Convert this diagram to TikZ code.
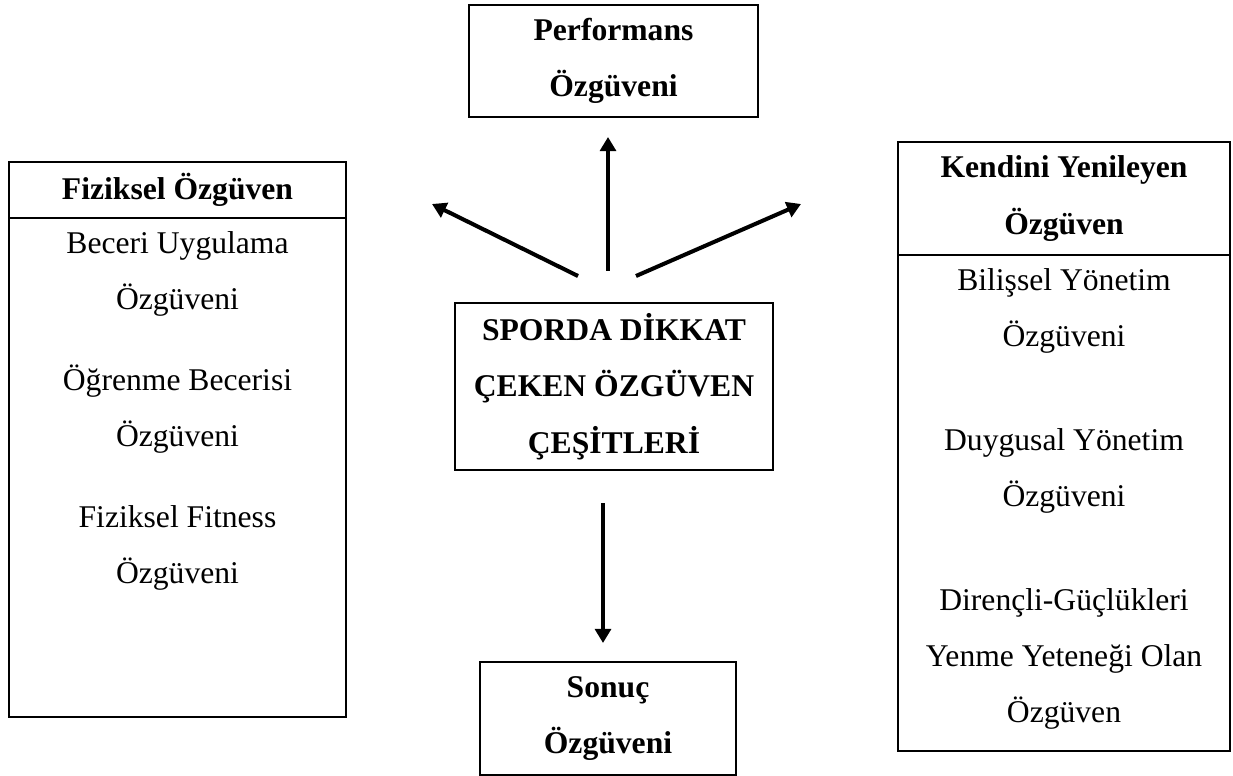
\documentclass[tikz,border=0pt]{standalone}
\usepackage{fontspec}
\setmainfont{Liberation Serif}
\usetikzlibrary{positioning,arrows.meta}
\newcommand*{\yazi}{\fontsize{18}{32}\selectfont}

\begin{document}
\begin{tikzpicture}[x=0.02cm,y=-0.02cm,
  kutu/.style={draw,line width=1.2pt,inner sep=0pt,outer sep=0pt,
    align=center,font=\yazi\bfseries},
  metin/.style={inner sep=0pt,align=center,font=\yazi,anchor=north},
  ok/.style={line width=2.3pt,-{Triangle[length=8pt,width=9pt]}}]
\useasboundingbox (0,0) rectangle (1233,776);
% Middle box and the two boxes above and below it
\node [kutu,minimum width=6.36cm,minimum height=3.34cm] (merkez) at (614,386.5)
  {SPORDA DİKKAT\\ÇEKEN ÖZGÜVEN\\ÇEŞİTLERİ};
\node [kutu,minimum width=5.78cm,minimum height=2.24cm] (perf) at (613.5,61)
  {Performans\\Özgüveni};
\node [kutu,minimum width=5.12cm,minimum height=2.26cm] (sonuc) at (608,718.5)
  {Sonuç\\Özgüveni};
% Left box: header and body
\node [kutu,minimum width=6.74cm,minimum height=1.12cm] (fizBas) at (177.5,190)
  {Fiziksel Özgüven};
\node [kutu,minimum width=6.74cm,minimum height=9.98cm,anchor=north] (fizGovde)
  at (fizBas.south) {};
\node [metin] (fizMetin) at (177.5,231)
  {Beceri Uygulama\\Özgüveni\\[14pt]Öğrenme Becerisi\\Özgüveni\\[14pt]%
   Fiziksel Fitness\\Özgüveni};
% Right box: header and body
\node [kutu,minimum width=6.64cm,minimum height=2.26cm] (kenBas) at (1064,198.5)
  {Kendini Yenileyen\\Özgüven};
\node [kutu,minimum width=6.64cm,minimum height=9.92cm,anchor=north] (kenGovde)
  at (kenBas.south) {};
\node [metin] (kenMetin) at (1064,268)
  {Bilişsel Yönetim\\Özgüveni\\[27pt]Duygusal Yönetim\\Özgüveni\\[27pt]%
   Dirençli-Güçlükleri\\Yenme Yeteneği Olan\\Özgüven};
% Free ends of the arrows
\coordinate (solBas) at (578,276);
\coordinate (solUc) at (432,204);
\coordinate (ustBas) at (608,271);
\coordinate (ustUc) at (608,137);
\coordinate (sagBas) at (636,276);
\coordinate (sagUc) at (801,204);
\coordinate (altBas) at (603,503);
\coordinate (altUc) at (603,643);
\draw [ok] (solBas) -- (solUc);
\draw [ok] (ustBas) -- (ustUc);
\draw [ok] (sagBas) -- (sagUc);
\draw [ok] (altBas) -- (altUc);
\end{tikzpicture}
\end{document}
